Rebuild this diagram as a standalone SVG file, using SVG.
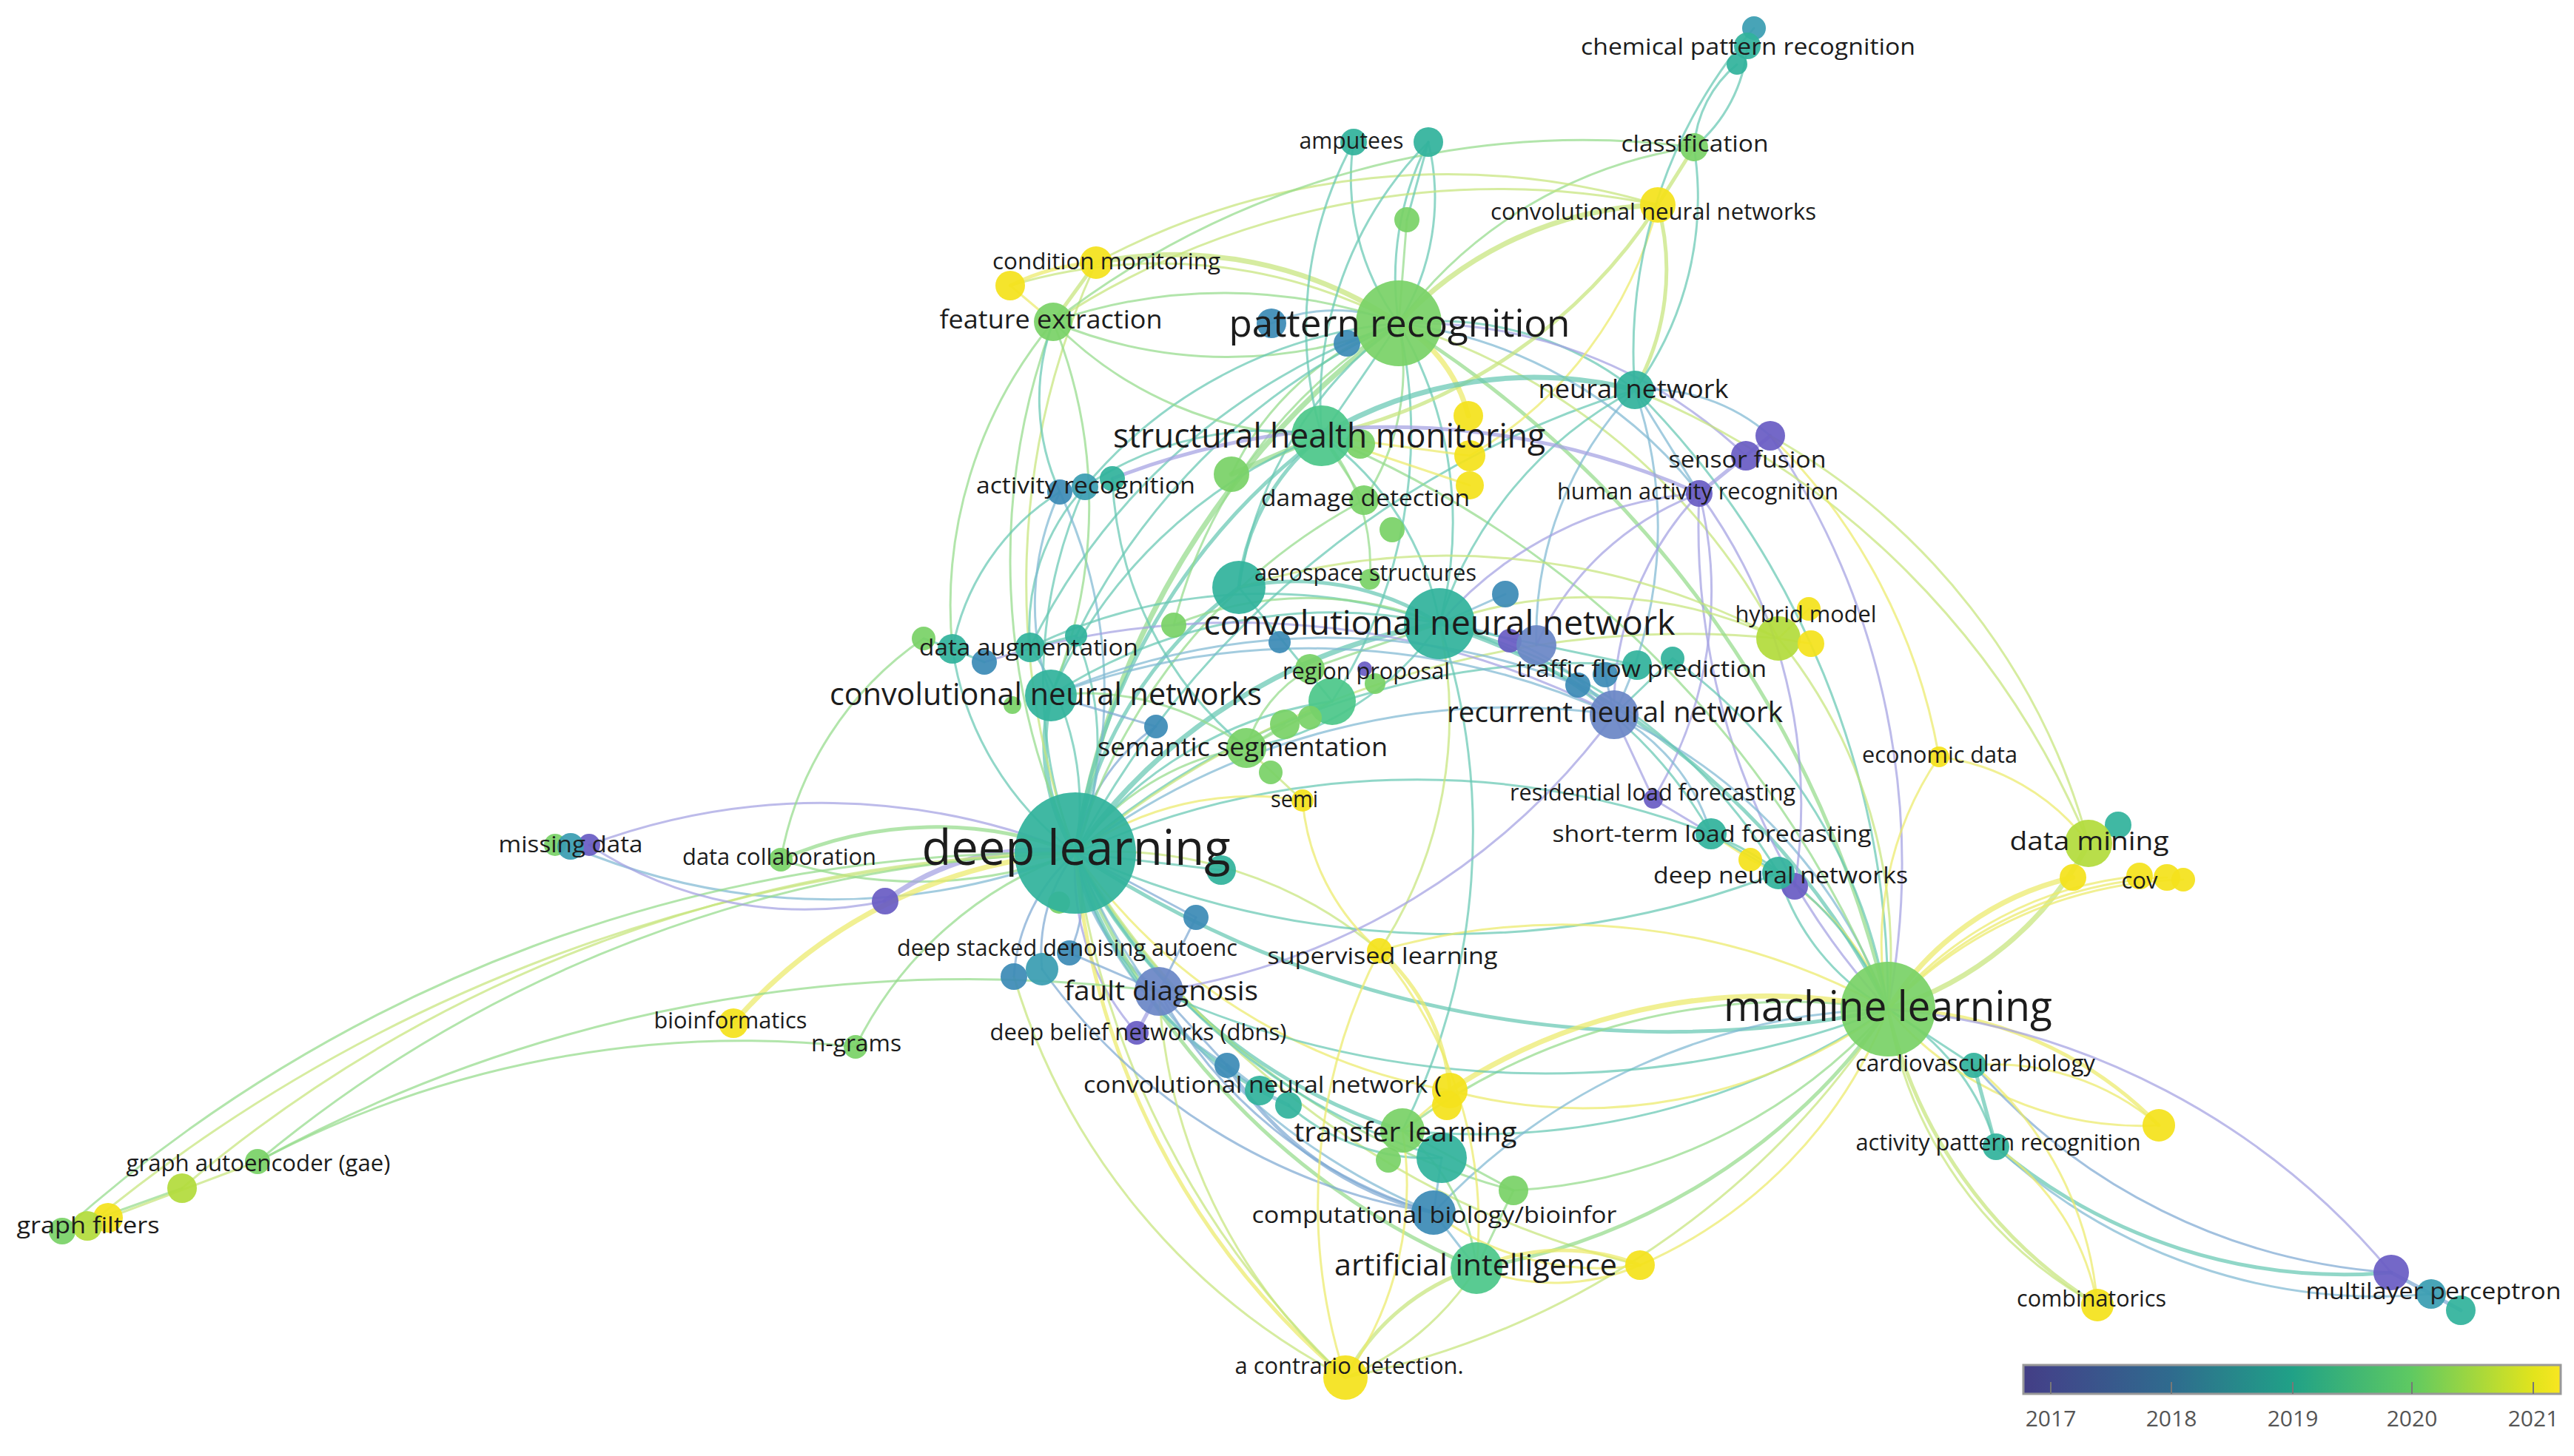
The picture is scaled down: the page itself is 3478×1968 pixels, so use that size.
<svg xmlns="http://www.w3.org/2000/svg" width="3478" height="1968" viewBox="0 0 3478 1968">
<defs>
<linearGradient id="legendGrad" x1="0" y1="0" x2="1" y2="0">
<stop offset="0" stop-color="#433e85"/>
<stop offset="0.05" stop-color="#41468a"/>
<stop offset="0.275" stop-color="#2f6b8e"/>
<stop offset="0.5" stop-color="#20a187"/>
<stop offset="0.72" stop-color="#5ec962"/>
<stop offset="0.95" stop-color="#e2e41c"/>
<stop offset="1" stop-color="#f8e621"/>
</linearGradient>
<style>
path{fill:none;stroke-width:3;stroke-opacity:0.72;stroke-linecap:round}
.w4{stroke-width:5}
.w5{stroke-width:7}
.ey{stroke:#ebea6a}
.eyg{stroke:#c6e47c}
.eg{stroke:#94db8a}
.et{stroke:#66c8b3}
.etb{stroke:#7fb9d2}
.eb{stroke:#7ea9d3}
.ep{stroke:#a4a1e2}
circle{fill-opacity:0.93}
.y{fill:#f4e21c}
.yg{fill:#b3dc3c}
.g{fill:#7ad267}
.gt{fill:#4cc78a}
.t{fill:#31b39c}
.tb{fill:#3a9db2}
.b{fill:#3c8bb6}
.bp{fill:#6b86c6}
.p{fill:#695dc4}
text{font-family:"Open Sans","Liberation Sans",sans-serif;fill:#1c1c1c;text-anchor:middle}
.s{font-size:31px}
.leg{font-size:30px;fill:#555}
</style>
</defs>
<rect x="0" y="0" width="3478" height="1968" fill="#ffffff"/>
<g id="connectors">
<path class="eg w5" d="M1453 1153A1100 1100 0 0 1 1890 437"/>
<path class="et w5" d="M1453 1153A750 750 0 0 1 1945 843"/>
<path class="et w4" d="M1453 1153A850 850 0 0 1 1786 589"/>
<path class="et w5" d="M1453 1153A280 280 0 0 1 1420 940"/>
<path class="etb" d="M1453 1153A980 980 0 0 1 2181 966"/>
<path class="etb w4" d="M1453 1153A290 290 0 0 0 1566 1340"/>
<path class="et w4" d="M1453 1153A750 750 0 0 0 1895 1528"/>
<path class="eg w4" d="M1453 1153A1000 1000 0 0 0 1995 1714"/>
<path class="et w4" d="M1453 1153A1450 1450 0 0 0 2551 1364"/>
<path class="eg" d="M1453 1153A350 350 0 0 1 1684 1011"/>
<path class="et" d="M1453 1153A1280 1280 0 0 1 2209 527"/>
<path class="eg" d="M1423 435A930 930 0 0 0 1453 1153"/>
<path class="et" d="M1466 658A640 640 0 0 0 1453 1153"/>
<path class="et" d="M1287 877A420 420 0 0 0 1453 1153"/>
<path class="et" d="M1392 875A370 370 0 0 1 1453 1153"/>
<path class="et" d="M1454 859A380 380 0 0 1 1453 1153"/>
<path class="ep" d="M796 1142A900 900 0 0 1 1453 1153"/>
<path class="etb" d="M771 1144A900 900 0 0 0 1453 1153"/>
<path class="eg w4" d="M1055 1162A520 520 0 0 1 1453 1153"/>
<path class="eg" d="M1055 1162A600 600 0 0 0 1453 1153"/>
<path class="ep w5" d="M1196 1218A340 340 0 0 1 1453 1153"/>
<path class="ey w5" d="M991 1383A670 670 0 0 1 1453 1153"/>
<path class="eg" d="M1156 1415A520 520 0 0 1 1453 1153"/>
<path class="eyg" d="M118 1657A2200 2200 0 0 1 1453 1153"/>
<path class="eg" d="M84 1664A2000 2000 0 0 1 1453 1153"/>
<path class="eg" d="M348 1570A1800 1800 0 0 1 1453 1153"/>
<path class="eyg" d="M246 1606A1900 1900 0 0 1 1453 1153"/>
<path class="eb" d="M1370 1320A240 240 0 0 1 1453 1153"/>
<path class="eb" d="M1408 1310A220 220 0 0 1 1453 1153"/>
<path class="eb" d="M1445 1288A180 180 0 0 0 1453 1153"/>
<path class="ep" d="M1453 1153A330 330 0 0 0 1536 1396"/>
<path class="etb" d="M1453 1153A460 460 0 0 0 1658 1440"/>
<path class="et w4" d="M1453 1153A530 530 0 0 0 1702 1474"/>
<path class="etb" d="M1453 1153A890 890 0 0 0 1937 1639"/>
<path class="eyg" d="M1453 1153A560 560 0 0 1 1864 1285"/>
<path class="ey w4" d="M1818 1862A1040 1040 0 0 1 1453 1153"/>
<path class="eyg" d="M1818 1862A1200 1200 0 0 1 1453 1153"/>
<path class="et" d="M1453 1153A1120 1120 0 0 1 2312 1127"/>
<path class="et" d="M1453 1153A1230 1230 0 0 0 2403 1180"/>
<path class="et" d="M1453 1153A1040 1040 0 0 1 2212 899"/>
<path class="eyg" d="M1453 1153A1290 1290 0 0 1 2403 863"/>
<path class="et w4" d="M1453 1153A550 550 0 0 1 1674 794"/>
<path class="ey" d="M1453 1153A410 410 0 0 1 1760 1082"/>
<path class="et" d="M1453 1153A520 520 0 0 1 1800 948"/>
<path class="eb" d="M1453 1153A260 260 0 0 1 1562 982"/>
<path class="eyg" d="M1481 355A1040 1040 0 0 0 1453 1153"/>
<path class="etb" d="M1432 665A630 630 0 0 1 1453 1153"/>
<path class="eg" d="M1453 1153A800 800 0 0 1 1843 676"/>
<path class="eg" d="M1453 1153A970 970 0 0 0 2045 1609"/>
<path class="eyg" d="M1453 1153A1230 1230 0 0 0 2216 1710"/>
<path class="ey" d="M1453 1153A780 780 0 0 0 1959 1474"/>
<path class="et" d="M1453 1153A840 840 0 0 0 1948 1565"/>
<path class="eb" d="M1453 1153L1616 1240"/>
<path class="et" d="M1453 1153L1650 1176"/>
<path class="eg w4" d="M2551 1364A1480 1480 0 0 0 1890 437"/>
<path class="et w4" d="M2551 1364A1040 1040 0 0 0 1945 843"/>
<path class="et" d="M2551 1364A1170 1170 0 0 0 2209 527"/>
<path class="ep" d="M2551 1364A1030 1030 0 0 0 2392 589"/>
<path class="ep" d="M2551 1364A960 960 0 0 1 2296 667"/>
<path class="eyg" d="M2551 1364A680 680 0 0 0 2403 863"/>
<path class="ey" d="M2551 1364A450 450 0 0 1 2620 1023"/>
<path class="eyg w5" d="M2551 1364A460 460 0 0 0 2822 1140"/>
<path class="ey w5" d="M2551 1364A400 400 0 0 1 2801 1186"/>
<path class="ey" d="M2551 1364A500 500 0 0 1 2891 1184"/>
<path class="ey" d="M2551 1364A540 540 0 0 1 2928 1186"/>
<path class="ey" d="M2551 1364A570 570 0 0 1 2950 1189"/>
<path class="ey" d="M2551 1364A360 360 0 0 0 2365 1162"/>
<path class="et" d="M2551 1364A310 310 0 0 1 2403 1180"/>
<path class="et" d="M2551 1364A440 440 0 0 0 2312 1127"/>
<path class="etb" d="M2551 1364A700 700 0 0 0 2181 966"/>
<path class="eg w4" d="M2551 1364A850 850 0 0 1 1995 1714"/>
<path class="eg" d="M2551 1364A880 880 0 0 0 1895 1528"/>
<path class="et" d="M2551 1364A1000 1000 0 0 1 1895 1528"/>
<path class="ey w5" d="M2551 1364A780 780 0 0 0 1959 1474"/>
<path class="ey" d="M2551 1364A700 700 0 0 1 1959 1474"/>
<path class="ey" d="M2551 1364A900 900 0 0 0 1864 1285"/>
<path class="et" d="M2551 1364L2667 1440"/>
<path class="et" d="M2551 1364A310 310 0 0 1 2697 1550"/>
<path class="ey w4" d="M2551 1364A520 520 0 0 1 2917 1521"/>
<path class="ey" d="M2551 1364A450 450 0 0 0 2917 1521"/>
<path class="eyg w4" d="M2551 1364A640 640 0 0 0 2834 1764"/>
<path class="eyg" d="M2551 1364A560 560 0 0 0 2834 1764"/>
<path class="ep" d="M2551 1364A1000 1000 0 0 1 3231 1720"/>
<path class="ey" d="M2551 1364A630 630 0 0 1 2216 1710"/>
<path class="etb" d="M2551 1364A870 870 0 0 0 1937 1639"/>
<path class="et" d="M2551 1364A1280 1280 0 0 1 1566 1340"/>
<path class="eyg" d="M2551 1364A1150 1150 0 0 1 1818 1862"/>
<path class="eg" d="M2551 1364A1400 1400 0 0 0 1786 589"/>
<path class="eg" d="M2551 1364A730 730 0 0 1 2045 1609"/>
<path class="et" d="M2551 1364A720 720 0 0 0 2260 890"/>
<path class="et" d="M1890 437A330 330 0 0 1 1829 192"/>
<path class="et" d="M1890 437A320 320 0 0 0 1930 192"/>
<path class="et" d="M1890 437A400 400 0 0 1 1930 192"/>
<path class="eg" d="M1890 437L1901 297"/>
<path class="eg" d="M1890 437A600 600 0 0 1 2289 199"/>
<path class="eyg w5" d="M1890 437A500 500 0 0 1 2240 277"/>
<path class="eyg w5" d="M1481 355A540 540 0 0 1 1890 437"/>
<path class="eyg" d="M1365 386A690 690 0 0 1 1890 437"/>
<path class="eg" d="M1423 435A610 610 0 0 0 1890 437"/>
<path class="eg" d="M1423 435A700 700 0 0 1 1890 437"/>
<path class="etb" d="M1718 437A220 220 0 0 1 1890 437"/>
<path class="etb" d="M1820 464L1890 437"/>
<path class="et" d="M1890 437A430 430 0 0 1 2209 527"/>
<path class="ey w5" d="M1890 437A200 200 0 0 1 1984 562"/>
<path class="et" d="M1890 437L1786 589"/>
<path class="et" d="M1890 437A530 530 0 0 1 1945 843"/>
<path class="et" d="M1890 437A620 620 0 0 0 1466 658"/>
<path class="eg" d="M1890 437A400 400 0 0 0 1664 641"/>
<path class="eg" d="M1890 437A320 320 0 0 1 1843 676"/>
<path class="etb" d="M1890 437A610 610 0 0 1 2296 667"/>
<path class="ep" d="M1890 437A650 650 0 0 1 2359 616"/>
<path class="et" d="M1890 437A540 540 0 0 0 1674 794"/>
<path class="et" d="M1890 437A860 860 0 0 0 1392 875"/>
<path class="et" d="M1890 437A890 890 0 0 0 1420 940"/>
<path class="et" d="M1890 437A670 670 0 0 1 1800 948"/>
<path class="eyg" d="M1890 437A870 870 0 0 1 2403 863"/>
<path class="eg" d="M1890 437A660 660 0 0 0 1586 845"/>
<path class="eyg w4" d="M2240 277L2289 199"/>
<path class="eyg w4" d="M2240 277A330 330 0 0 1 2209 527"/>
<path class="eyg" d="M1481 355A1000 1000 0 0 1 2240 277"/>
<path class="eyg" d="M1423 435A1100 1100 0 0 1 2240 277"/>
<path class="eyg w4" d="M2240 277A720 720 0 0 1 1786 589"/>
<path class="ey" d="M2240 277A550 550 0 0 1 1986 616"/>
<path class="et" d="M2289 199A160 160 0 0 1 2347 87"/>
<path class="et" d="M2289 199A200 200 0 0 0 2361 62"/>
<path class="et" d="M2289 199A440 440 0 0 1 2209 527"/>
<path class="eg" d="M1423 435A1170 1170 0 0 1 2289 199"/>
<path class="et" d="M2370 38A670 670 0 0 0 2209 527"/>
<path class="et" d="M1829 192A520 520 0 0 0 1786 589"/>
<path class="et" d="M1930 192A500 500 0 0 0 1786 589"/>
<path class="et" d="M1930 192L1901 297"/>
<path class="eyg w4" d="M1423 435L1481 355"/>
<path class="ey" d="M1423 435L1365 386"/>
<path class="et" d="M1423 435A300 300 0 0 0 1432 665"/>
<path class="eg" d="M1423 435A600 600 0 0 0 1287 877"/>
<path class="eg" d="M1423 435A660 660 0 0 1 1420 940"/>
<path class="eg" d="M1423 435A510 510 0 0 0 1786 589"/>
<path class="ey w4" d="M1365 386A300 300 0 0 1 1481 355"/>
<path class="etb" d="M2209 527A250 250 0 0 1 2392 589"/>
<path class="etb" d="M2209 527L2296 667"/>
<path class="et" d="M2209 527A540 540 0 0 0 1945 843"/>
<path class="etb" d="M2209 527A570 570 0 0 1 2181 966"/>
<path class="et w5" d="M2209 527A560 560 0 0 0 1786 589"/>
<path class="eyg" d="M2209 527A1130 1130 0 0 1 2822 1140"/>
<path class="etb" d="M2209 527A480 480 0 0 0 2076 872"/>
<path class="ep w4" d="M2392 589L2359 616"/>
<path class="ep w4" d="M2359 616L2296 667"/>
<path class="ep" d="M2296 667A510 510 0 0 0 1945 843"/>
<path class="ep" d="M2296 667A390 390 0 0 0 2076 872"/>
<path class="eyg" d="M2392 589A900 900 0 0 1 2822 1140"/>
<path class="ep w4" d="M2296 667A1030 1030 0 0 0 1503 647"/>
<path class="ep" d="M2296 667A420 420 0 0 0 2181 966"/>
<path class="ep" d="M2296 667A540 540 0 0 1 2234 1080"/>
<path class="ey" d="M2392 589A800 800 0 0 1 2620 1023"/>
<path class="ey" d="M1786 589L1986 616"/>
<path class="ey" d="M1786 589L1986 656"/>
<path class="eg w5" d="M1786 589L1664 641"/>
<path class="eg" d="M1786 589L1843 676"/>
<path class="et w4" d="M1786 589A300 300 0 0 0 1674 794"/>
<path class="et" d="M1786 589A390 390 0 0 1 1945 843"/>
<path class="et" d="M1786 589A430 430 0 0 0 1466 658"/>
<path class="eg" d="M1786 589A270 270 0 0 1 1851 783"/>
<path class="et" d="M1786 589A660 660 0 0 0 1420 940"/>
<path class="et w4" d="M1945 843A360 360 0 0 0 1674 794"/>
<path class="etb" d="M1945 843A350 350 0 0 1 2181 966"/>
<path class="et" d="M1945 843L2212 899"/>
<path class="eyg" d="M1945 843A600 600 0 0 1 2403 863"/>
<path class="et" d="M1945 843A700 700 0 0 0 1420 940"/>
<path class="et" d="M1945 843A400 400 0 0 1 1684 1011"/>
<path class="et" d="M1945 843A720 720 0 0 0 1392 875"/>
<path class="eg" d="M1945 843A470 470 0 0 0 1586 845"/>
<path class="eg" d="M1945 843L1770 904"/>
<path class="etb" d="M1945 843L2034 803"/>
<path class="et" d="M1945 843A600 600 0 0 1 2312 1127"/>
<path class="eyg" d="M1945 843A580 580 0 0 1 1864 1285"/>
<path class="et" d="M1945 843A740 740 0 0 1 2403 1180"/>
<path class="et" d="M1945 843A900 900 0 0 1 1895 1528"/>
<path class="eb" d="M2181 966L2132 926"/>
<path class="eb" d="M2181 966L2169 912"/>
<path class="et" d="M2181 966L2260 890"/>
<path class="ep" d="M2181 966L2234 1080"/>
<path class="etb" d="M2181 966A270 270 0 0 1 2312 1127"/>
<path class="etb" d="M2181 966A990 990 0 0 0 1420 940"/>
<path class="ep" d="M2181 966A940 940 0 0 1 1566 1340"/>
<path class="ep" d="M2181 966A1110 1110 0 0 0 1330 895"/>
<path class="ey" d="M2822 1140A300 300 0 0 0 2620 1023"/>
<path class="et w4" d="M2667 1440L2697 1550"/>
<path class="et w4" d="M2697 1550A730 730 0 0 0 3231 1720"/>
<path class="etb" d="M2697 1550A760 760 0 0 0 3285 1749"/>
<path class="eb" d="M2667 1440A820 820 0 0 0 3231 1720"/>
<path class="eb w4" d="M3231 1720L3285 1749L3325 1771"/>
<path class="ey" d="M2667 1440A340 340 0 0 1 2917 1521"/>
<path class="ey" d="M2697 1550A330 330 0 0 1 2834 1764"/>
<path class="ey" d="M2667 1440A470 470 0 0 1 2834 1764"/>
<path class="eg" d="M1895 1528A280 280 0 0 1 1995 1714"/>
<path class="ey" d="M1895 1528L1959 1474"/>
<path class="etb" d="M1948 1565L1937 1639"/>
<path class="etb" d="M1995 1714L1937 1639"/>
<path class="ey w4" d="M1995 1714A290 290 0 0 1 2216 1710"/>
<path class="ey" d="M1995 1714A290 290 0 0 0 2216 1710"/>
<path class="eyg w4" d="M1818 1862A300 300 0 0 1 1995 1714"/>
<path class="eyg" d="M1818 1862A380 380 0 0 0 1995 1714"/>
<path class="eg" d="M1995 1714L2045 1609"/>
<path class="eb w4" d="M1658 1440A450 450 0 0 0 1937 1639"/>
<path class="eb" d="M1566 1340A620 620 0 0 0 1937 1639"/>
<path class="eb" d="M1408 1310A810 810 0 0 0 1937 1639"/>
<path class="etb w4" d="M1658 1440L1702 1474L1741 1494"/>
<path class="et" d="M1741 1494A290 290 0 0 0 1948 1565"/>
<path class="ey w4" d="M1864 1285A280 280 0 0 1 1959 1474"/>
<path class="ey" d="M1864 1285A580 580 0 0 1 1995 1714"/>
<path class="ey" d="M1864 1285A750 750 0 0 0 1818 1862"/>
<path class="ey" d="M1864 1285A300 300 0 0 1 1760 1082"/>
<path class="eyg" d="M1760 1082L1684 1011"/>
<path class="eyg" d="M1818 1862A750 750 0 0 1 1566 1340"/>
<path class="eyg" d="M1818 1862A900 900 0 0 1 1370 1320"/>
<path class="ey" d="M1818 1862A450 450 0 0 0 1895 1528"/>
<path class="ey" d="M2216 1710A370 370 0 0 1 1937 1639"/>
<path class="eg" d="M2045 1609L1895 1528"/>
<path class="ep w4" d="M1566 1340L1536 1396"/>
<path class="eb" d="M1566 1340L1445 1288"/>
<path class="eb" d="M1566 1340L1658 1440"/>
<path class="eb" d="M1566 1340L1616 1240"/>
<path class="eg" d="M348 1570A1400 1400 0 0 1 1156 1415"/>
<path class="eg" d="M348 1570A2000 2000 0 0 1 1566 1340"/>
<path class="eg" d="M84 1664L246 1606"/>
<path class="eyg" d="M146 1646L348 1570"/>
<path class="eg" d="M1055 1162A460 460 0 0 1 1248 863"/>
<path class="ep" d="M796 1142A530 530 0 0 0 1196 1218"/>
<path class="et" d="M1287 877A320 320 0 0 1 1432 665"/>
<path class="et" d="M1392 875A280 280 0 0 1 1466 658"/>
<path class="etb" d="M1432 665A360 360 0 0 0 1420 940"/>
<path class="et" d="M1503 647A500 500 0 0 0 1684 1011"/>
<path class="ey" d="M2403 863L2444 823"/>
<path class="ey" d="M2403 863L2447 870"/>
<path class="eyg" d="M2403 863A950 950 0 0 0 1674 794"/>
<path class="etb" d="M2132 926A930 930 0 0 0 1420 940"/>
<path class="ep" d="M2312 1127L2234 1080"/>
<path class="ey" d="M2312 1127L2365 1162"/>
<path class="et" d="M2312 1127L2403 1180"/>
<path class="ep" d="M2425 1198A710 710 0 0 0 2296 667"/>
<path class="eg" d="M1684 1011L1800 948"/>
<path class="eg" d="M1684 1011L1736 979"/>
<path class="eg" d="M1684 1011A180 180 0 0 1 1770 904"/>
<path class="eg" d="M1684 1011A360 360 0 0 0 1420 940"/>
<path class="et" d="M1800 948L1674 794"/>
<path class="eb" d="M1562 982L1420 940"/>
<path class="et" d="M1248 863L1287 877L1330 895"/>
<path class="et" d="M1392 875L1454 859"/>
</g>
<g id="node-unlabeled">
<g id="n-chem1"><circle class="tb" cx="2370" cy="38" r="16"/></g>
<g id="n-chem3"><circle class="t" cx="2347" cy="87" r="14"/></g>
<g id="n-amp2"><circle class="t" cx="1930" cy="192" r="20"/></g>
<g id="n-g297"><circle class="g" cx="1901" cy="297" r="17"/></g>
<g id="n-cm2"><circle class="y" cx="1365" cy="386" r="20"/></g>
<g id="n-bl1"><circle class="b" cx="1718" cy="437" r="20"/></g>
<g id="n-bl2"><circle class="b" cx="1820" cy="464" r="18"/></g>
<g id="n-y1"><circle class="y" cx="1984" cy="562" r="20"/></g>
<g id="n-y2"><circle class="y" cx="1986" cy="616" r="21"/></g>
<g id="n-y3"><circle class="y" cx="1986" cy="656" r="19"/></g>
<g id="n-g600"><circle class="g" cx="1838" cy="600" r="20"/></g>
<g id="n-g641"><circle class="g" cx="1664" cy="641" r="24"/></g>
<g id="n-ar1"><circle class="b" cx="1432" cy="665" r="17"/></g>
<g id="n-ar3"><circle class="t" cx="1503" cy="647" r="17"/></g>
<g id="n-g716"><circle class="g" cx="1881" cy="716" r="17"/></g>
<g id="n-sf1"><circle class="p" cx="2392" cy="589" r="20"/></g>
<g id="n-as"><circle class="t" cx="1674" cy="794" r="36"/></g>
<g id="n-b803"><circle class="b" cx="2034" cy="803" r="18"/></g>
<g id="n-g845"><circle class="g" cx="1586" cy="845" r="17"/></g>
<g id="n-p866"><circle class="p" cx="2040" cy="866" r="16"/></g>
<g id="n-bp872"><circle class="bp" cx="2076" cy="872" r="27"/></g>
<g id="n-b868"><circle class="b" cx="1729" cy="868" r="15"/></g>
<g id="n-da1"><circle class="g" cx="1248" cy="863" r="16"/></g>
<g id="n-da2"><circle class="t" cx="1287" cy="877" r="20"/></g>
<g id="n-da3"><circle class="b" cx="1330" cy="895" r="17"/></g>
<g id="n-da5"><circle class="t" cx="1454" cy="859" r="15"/></g>
<g id="n-rp1"><circle class="g" cx="1770" cy="904" r="20"/></g>
<g id="n-rpg"><circle class="g" cx="1858" cy="924" r="14"/></g>
<g id="n-t948"><circle class="gt" cx="1800" cy="948" r="32"/></g>
<g id="n-tf1"><circle class="b" cx="2132" cy="926" r="17"/></g>
<g id="n-tf2"><circle class="b" cx="2169" cy="912" r="17"/></g>
<g id="n-tf4"><circle class="t" cx="2260" cy="890" r="16"/></g>
<g id="n-gl953"><circle class="g" cx="1368" cy="953" r="12"/></g>
<g id="n-b982"><circle class="b" cx="1562" cy="982" r="16"/></g>
<g id="n-g979"><circle class="g" cx="1736" cy="979" r="20"/></g>
<g id="n-g970"><circle class="g" cx="1770" cy="970" r="16"/></g>
<g id="n-g1044"><circle class="g" cx="1717" cy="1044" r="16"/></g>
<g id="n-hm"><circle class="yg" cx="2403" cy="863" r="30"/></g>
<g id="n-hmy2"><circle class="y" cx="2447" cy="870" r="18"/></g>
<g id="n-dnny"><circle class="y" cx="2365" cy="1162" r="16"/></g>
<g id="n-dnnp"><circle class="p" cx="2425" cy="1198" r="18"/></g>
<g id="n-t1176"><circle class="t" cx="1650" cy="1176" r="20"/></g>
<g id="n-p1218"><circle class="p" cx="1196" cy="1218" r="18"/></g>
<g id="n-b1240"><circle class="b" cx="1616" cy="1240" r="17"/></g>
<g id="n-g1220"><circle class="g" cx="1431" cy="1220" r="15"/></g>
<g id="n-ds1"><circle class="b" cx="1370" cy="1320" r="18"/></g>
<g id="n-ds2"><circle class="tb" cx="1408" cy="1310" r="22"/></g>
<g id="n-c1"><circle class="b" cx="1658" cy="1440" r="17"/></g>
<g id="n-c3"><circle class="t" cx="1741" cy="1494" r="18"/></g>
<g id="n-cy"><circle class="y" cx="1959" cy="1474" r="24"/></g>
<g id="n-cy2"><circle class="y" cx="1955" cy="1494" r="20"/></g>
<g id="n-tlg"><circle class="g" cx="1876" cy="1568" r="17"/></g>
<g id="n-tlt"><circle class="t" cx="1948" cy="1565" r="34"/></g>
<g id="n-g1609"><circle class="g" cx="2045" cy="1609" r="20"/></g>
<g id="n-aiy"><circle class="y" cx="2216" cy="1710" r="20"/></g>
<g id="n-md1"><circle class="g" cx="750" cy="1142" r="15"/></g>
<g id="n-md3"><circle class="p" cx="796" cy="1142" r="15"/></g>
<g id="n-gae2"><circle class="yg" cx="246" cy="1606" r="20"/></g>
<g id="n-gf1"><circle class="g" cx="84" cy="1664" r="18"/></g>
<g id="n-gf3"><circle class="y" cx="146" cy="1646" r="20"/></g>
<g id="n-dmt"><circle class="t" cx="2862" cy="1115" r="18"/></g>
<g id="n-dmy1"><circle class="y" cx="2801" cy="1186" r="18"/></g>
<g id="n-dmy3"><circle class="y" cx="2928" cy="1186" r="18"/></g>
<g id="n-dmy4"><circle class="y" cx="2950" cy="1189" r="16"/></g>
<g id="n-y1521"><circle class="y" cx="2917" cy="1521" r="22"/></g>
<g id="n-mlp1"><circle class="p" cx="3231" cy="1720" r="24"/></g>
<g id="n-mlp3"><circle class="t" cx="3325" cy="1771" r="20"/></g>
</g>
<g id="node-deep-learning"><circle class="t" cx="1453" cy="1153" r="82"/><text x="1454" y="1169" font-size="66" textLength="417" lengthAdjust="spacingAndGlyphs">deep learning</text></g>
<g id="node-machine-learning"><circle class="g" cx="2551" cy="1364" r="64"/><text x="2551" y="1380" font-size="56" textLength="444" lengthAdjust="spacingAndGlyphs">machine learning</text></g>
<g id="node-pattern-recognition"><circle class="g" cx="1890" cy="437" r="58"/><text x="1891" y="455" font-size="52" textLength="461" lengthAdjust="spacingAndGlyphs">pattern recognition</text></g>
<g id="node-cnn"><circle class="t" cx="1945" cy="843" r="48"/><text x="1945" y="858" font-size="46" textLength="637" lengthAdjust="spacingAndGlyphs">convolutional neural network</text></g>
<g id="node-shm"><circle class="gt" cx="1786" cy="589" r="41"/><text x="1796" y="605" font-size="45" textLength="584" lengthAdjust="spacingAndGlyphs">structural health monitoring</text></g>
<g id="node-cnns-left"><circle class="t" cx="1420" cy="940" r="35"/><text x="1413" y="953" font-size="42" textLength="584" lengthAdjust="spacingAndGlyphs">convolutional neural networks</text></g>
<g id="node-rnn"><circle class="bp" cx="2181" cy="966" r="33"/><text x="2182" y="976" font-size="38" textLength="454" lengthAdjust="spacingAndGlyphs">recurrent neural network</text></g>
<g id="node-fault-diagnosis"><circle class="bp" cx="1566" cy="1340" r="33"/><text x="1569" y="1352" font-size="37" textLength="262" lengthAdjust="spacingAndGlyphs">fault diagnosis</text></g>
<g id="node-ai"><circle class="gt" cx="1995" cy="1714" r="35"/><text x="1994" y="1724" font-size="40" textLength="382" lengthAdjust="spacingAndGlyphs">artificial intelligence</text></g>
<g id="node-data-mining"><circle class="yg" cx="2822" cy="1140" r="32"/><text x="2823" y="1149" font-size="35" textLength="215" lengthAdjust="spacingAndGlyphs">data mining</text></g>
<g id="node-semantic-segmentation"><circle class="g" cx="1684" cy="1011" r="27"/><text x="1679" y="1022" font-size="35" textLength="392" lengthAdjust="spacingAndGlyphs">semantic segmentation</text></g>
<g id="node-neural-network"><circle class="t" cx="2209" cy="527" r="26"/><text x="2207" y="538" font-size="34" textLength="257" lengthAdjust="spacingAndGlyphs">neural network</text></g>
<g id="node-feature-extraction"><circle class="g" cx="1423" cy="435" r="26"/><text x="1420" y="444" font-size="34" textLength="301" lengthAdjust="spacingAndGlyphs">feature extraction</text></g>
<g id="node-transfer-learning"><circle class="g" cx="1895" cy="1528" r="30"/><text x="1899" y="1543" font-size="37" textLength="301" lengthAdjust="spacingAndGlyphs">transfer learning</text></g>
<g id="node-chemical-pattern-recognition"><circle class="t" cx="2361" cy="62" r="18"/><text class="s" x="2362" y="74" textLength="452" lengthAdjust="spacingAndGlyphs">chemical pattern recognition</text></g>
<g id="node-amputees"><circle class="t" cx="1829" cy="192" r="18"/><text class="s" x="1826" y="201" textLength="141" lengthAdjust="spacingAndGlyphs">amputees</text></g>
<g id="node-classification"><circle class="g" cx="2289" cy="199" r="19"/><text class="s" x="2290" y="205" textLength="199" lengthAdjust="spacingAndGlyphs">classification</text></g>
<g id="node-cnns-top"><circle class="y" cx="2240" cy="277" r="24"/><text class="s" x="2234" y="297" textLength="440" lengthAdjust="spacingAndGlyphs">convolutional neural networks</text></g>
<g id="node-condition-monitoring"><circle class="y" cx="1481" cy="355" r="22"/><text class="s" x="1495" y="364" textLength="308" lengthAdjust="spacingAndGlyphs">condition monitoring</text></g>
<g id="node-sensor-fusion"><circle class="p" cx="2359" cy="616" r="20"/><text class="s" x="2361" y="632" textLength="213" lengthAdjust="spacingAndGlyphs">sensor fusion</text></g>
<g id="node-activity-recognition"><circle class="tb" cx="1466" cy="658" r="18"/><text class="s" x="1467" y="667" textLength="296" lengthAdjust="spacingAndGlyphs">activity recognition</text></g>
<g id="node-human-activity-recognition"><circle class="p" cx="2296" cy="667" r="18"/><text class="s" x="2294" y="675" textLength="380" lengthAdjust="spacingAndGlyphs">human activity recognition</text></g>
<g id="node-damage-detection"><circle class="g" cx="1843" cy="676" r="20"/><text class="s" x="1845" y="684" textLength="282" lengthAdjust="spacingAndGlyphs">damage detection</text></g>
<g id="node-aerospace-structures"><circle class="g" cx="1851" cy="783" r="14"/><text class="s" x="1845" y="785" textLength="300" lengthAdjust="spacingAndGlyphs">aerospace structures</text></g>
<g id="node-data-augmentation"><circle class="t" cx="1392" cy="875" r="20"/><text class="s" x="1390" y="886" textLength="296" lengthAdjust="spacingAndGlyphs">data augmentation</text></g>
<g id="node-region-proposal"><circle class="p" cx="1844" cy="904" r="10"/><text class="s" x="1846" y="918" textLength="226" lengthAdjust="spacingAndGlyphs">region proposal</text></g>
<g id="node-traffic-flow-prediction"><circle class="t" cx="2212" cy="899" r="20"/><text class="s" x="2218" y="915" textLength="338" lengthAdjust="spacingAndGlyphs">traffic flow prediction</text></g>
<g id="node-hybrid-model"><circle class="y" cx="2444" cy="823" r="16"/><text class="s" x="2440" y="841" textLength="191" lengthAdjust="spacingAndGlyphs">hybrid model</text></g>
<g id="node-semi"><circle class="y" cx="1760" cy="1082" r="15"/><text class="s" x="1749" y="1091" textLength="64" lengthAdjust="spacingAndGlyphs">semi</text></g>
<g id="node-residential-load-forecasting"><circle class="p" cx="2234" cy="1080" r="13"/><text class="s" x="2233" y="1082" textLength="386" lengthAdjust="spacingAndGlyphs">residential load forecasting</text></g>
<g id="node-short-term-load-forecasting"><circle class="t" cx="2312" cy="1127" r="21"/><text class="s" x="2313" y="1138" textLength="431" lengthAdjust="spacingAndGlyphs">short-term load forecasting</text></g>
<g id="node-deep-neural-networks"><circle class="t" cx="2403" cy="1180" r="22"/><text class="s" x="2406" y="1194" textLength="344" lengthAdjust="spacingAndGlyphs">deep neural networks</text></g>
<g id="node-deep-stacked"><circle class="b" cx="1445" cy="1288" r="17"/><text class="s" x="1442" y="1292" textLength="460" lengthAdjust="spacingAndGlyphs">deep stacked denoising autoenc</text></g>
<g id="node-supervised-learning"><circle class="y" cx="1864" cy="1285" r="17"/><text class="s" x="1868" y="1303" textLength="311" lengthAdjust="spacingAndGlyphs">supervised learning</text></g>
<g id="node-economic-data"><circle class="y" cx="2620" cy="1023" r="14"/><text class="s" x="2621" y="1031" textLength="210" lengthAdjust="spacingAndGlyphs">economic data</text></g>
<g id="node-missing-data"><circle class="tb" cx="771" cy="1144" r="18"/><text class="s" x="771" y="1152" textLength="195" lengthAdjust="spacingAndGlyphs">missing data</text></g>
<g id="node-data-collaboration"><circle class="g" cx="1055" cy="1162" r="16"/><text class="s" x="1053" y="1169" textLength="262" lengthAdjust="spacingAndGlyphs">data collaboration</text></g>
<g id="node-bioinformatics"><circle class="y" cx="991" cy="1383" r="20"/><text class="s" x="987" y="1390" textLength="207" lengthAdjust="spacingAndGlyphs">bioinformatics</text></g>
<g id="node-n-grams"><circle class="g" cx="1156" cy="1415" r="16"/><text class="s" x="1157" y="1421" textLength="122" lengthAdjust="spacingAndGlyphs">n-grams</text></g>
<g id="node-deep-belief-networks"><circle class="p" cx="1536" cy="1396" r="16"/><text class="s" x="1538" y="1406" textLength="401" lengthAdjust="spacingAndGlyphs">deep belief networks (dbns)</text></g>
<g id="node-cnn-paren"><circle class="t" cx="1702" cy="1474" r="20"/><text class="s" x="1706" y="1477" textLength="484" lengthAdjust="spacingAndGlyphs">convolutional neural network (</text></g>
<g id="node-computational-biology"><circle class="b" cx="1937" cy="1639" r="30"/><text class="s" x="1938" y="1653" textLength="493" lengthAdjust="spacingAndGlyphs">computational biology/bioinfor</text></g>
<g id="node-a-contrario"><circle class="y" cx="1818" cy="1862" r="30"/><text class="s" x="1823" y="1857" textLength="309" lengthAdjust="spacingAndGlyphs">a contrario detection.</text></g>
<g id="node-cardiovascular-biology"><circle class="t" cx="2667" cy="1440" r="17"/><text class="s" x="2669" y="1448" textLength="324" lengthAdjust="spacingAndGlyphs">cardiovascular biology</text></g>
<g id="node-activity-pattern-recognition"><circle class="t" cx="2697" cy="1550" r="18"/><text class="s" x="2700" y="1555" textLength="385" lengthAdjust="spacingAndGlyphs">activity pattern recognition</text></g>
<g id="node-combinatorics"><circle class="y" cx="2834" cy="1764" r="22"/><text class="s" x="2826" y="1766" textLength="202" lengthAdjust="spacingAndGlyphs">combinatorics</text></g>
<g id="node-multilayer-perceptron"><circle class="tb" cx="3285" cy="1749" r="20"/><text class="s" x="3288" y="1756" textLength="345" lengthAdjust="spacingAndGlyphs">multilayer perceptron</text></g>
<g id="node-cov"><circle class="y" cx="2891" cy="1184" r="18"/><text class="s" x="2891" y="1201" textLength="49" lengthAdjust="spacingAndGlyphs">cov</text></g>
<g id="node-gae"><circle class="g" cx="348" cy="1570" r="17"/><text class="s" x="349" y="1583" textLength="357" lengthAdjust="spacingAndGlyphs">graph autoencoder (gae)</text></g>
<g id="node-graph-filters"><circle class="yg" cx="118" cy="1657" r="20"/><text class="s" x="119" y="1667" textLength="193" lengthAdjust="spacingAndGlyphs">graph filters</text></g>
<g id="legend">
<rect x="2734" y="1845" width="726" height="39" fill="url(#legendGrad)" stroke="#999" stroke-width="3"/>
<g stroke="#777" stroke-width="2">
<line x1="2771" y1="1868" x2="2771" y2="1884"/>
<line x1="2934" y1="1868" x2="2934" y2="1884"/>
<line x1="3098" y1="1868" x2="3098" y2="1884"/>
<line x1="3259" y1="1868" x2="3259" y2="1884"/>
<line x1="3423" y1="1868" x2="3423" y2="1884"/>
</g>
<text class="leg" x="2771" y="1928">2017</text>
<text class="leg" x="2934" y="1928">2018</text>
<text class="leg" x="3098" y="1928">2019</text>
<text class="leg" x="3259" y="1928">2020</text>
<text class="leg" x="3423" y="1928">2021</text>
</g>
</svg>
